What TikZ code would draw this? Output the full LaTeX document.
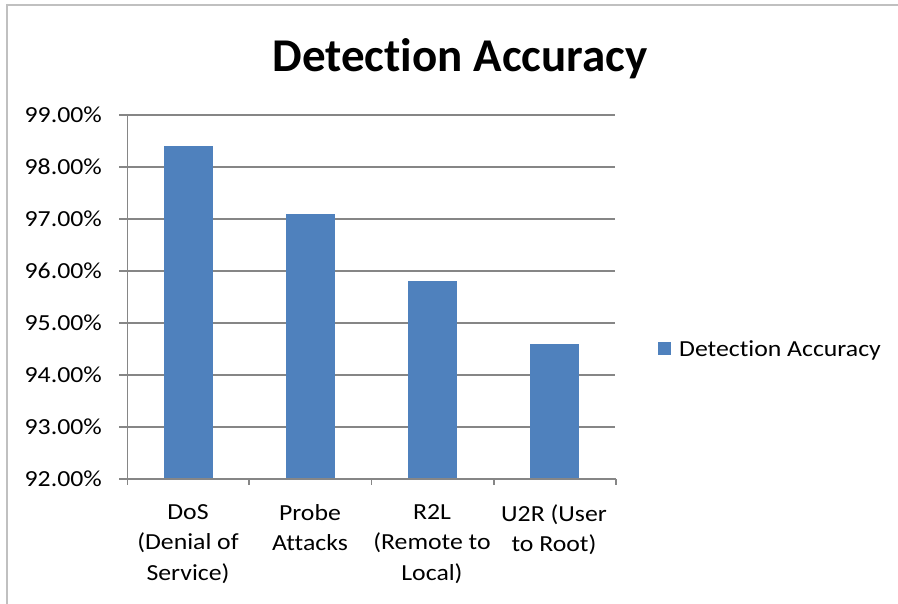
\documentclass[tikz,border=0pt]{standalone}
\usepackage{fontspec}
\setmainfont{Carlito}
\newfontfamily\titlefont{Carlito}[RawFeature=-liga]
\newfontfamily\axisfont{Carlito}[FakeStretch=1.12, RawFeature=-liga]
\definecolor{barblue}{HTML}{4F81BD}
\definecolor{axisgray}{HTML}{868686}
\definecolor{framegray}{HTML}{C0C0C0}
\tikzset{
  axisline/.style={draw=axisgray, line width=1.3pt},
  gridline/.style={draw=axisgray, line width=1.3pt},
  frameline/.style={draw=framegray, line width=2pt},
  bar/.style={fill=barblue, draw=none},
  ylabel/.style={anchor=east, font=\axisfont\fontsize{23}{27}\selectfont, inner sep=0pt},
  xlabel/.style={anchor=north, align=center, font=\axisfont\fontsize{23}{30.5}\selectfont, inner sep=0pt},
  legendtext/.style={anchor=base west, font=\axisfont\fontsize{23}{27}\selectfont, inner sep=0pt},
  titletext/.style={anchor=base, font=\titlefont\bfseries\fontsize{47}{50}\selectfont, inner sep=0pt}
}
\begin{document}
\begin{tikzpicture}[x=1pt, y=-1pt]
  \useasboundingbox (0,0) rectangle (898,604);
  \fill[white] (0,0) rectangle (898,604);
  % chart frame (top and left edges visible)
  \draw[frameline] (6,5) -- (898,5);
  \draw[frameline] (7,4) -- (7,604);

  % title
  \node[titletext] (title) at (460,72) {Detection Accuracy};

  % horizontal gridlines and value labels, 92% .. 99%
  \foreach \v [count=\i from 0] in {92,93,94,95,96,97,98,99} {
    \pgfmathsetmacro{\yy}{479-52*\i}
    \draw[gridline] (119,\yy) -- (615,\yy);
    \node[ylabel] (yl\v) at (102,\yy) {\v.00\%};
  }

  % bars
  \foreach \cx/\val/\nm in {188/98.4/dos, 310/97.1/probe, 432/95.8/rtl, 554/94.6/utr} {
    \pgfmathsetmacro{\top}{479-52*(\val-92)}
    \fill[bar] (\cx-24.5,479) rectangle (\cx+24.5,\top);
  }

  % axes
  \draw[axisline] (127.5,115) -- (127.5,485);
  \draw[axisline] (119,479) -- (616,479);
  \foreach \tx in {249,371.5,494,616} {
    \draw[axisline] (\tx,479) -- (\tx,485);
  }

  % category labels
  \node[xlabel] (c1) at (188,504) {DoS\\(Denial of\\Service)};
  \node[xlabel] (c2) at (310,504) {Probe\\Attacks};
  \node[xlabel] (c3) at (432,504) {R2L\\(Remote to\\Local)};
  \node[xlabel] (c4) at (554,504) {U2R (User\\to Root)};

  % legend
  \fill[bar] (658,342) rectangle (671,355) coordinate (legkey);
  \node[legendtext] (legend) at (679,356) {Detection Accuracy};
\end{tikzpicture}
\end{document}
